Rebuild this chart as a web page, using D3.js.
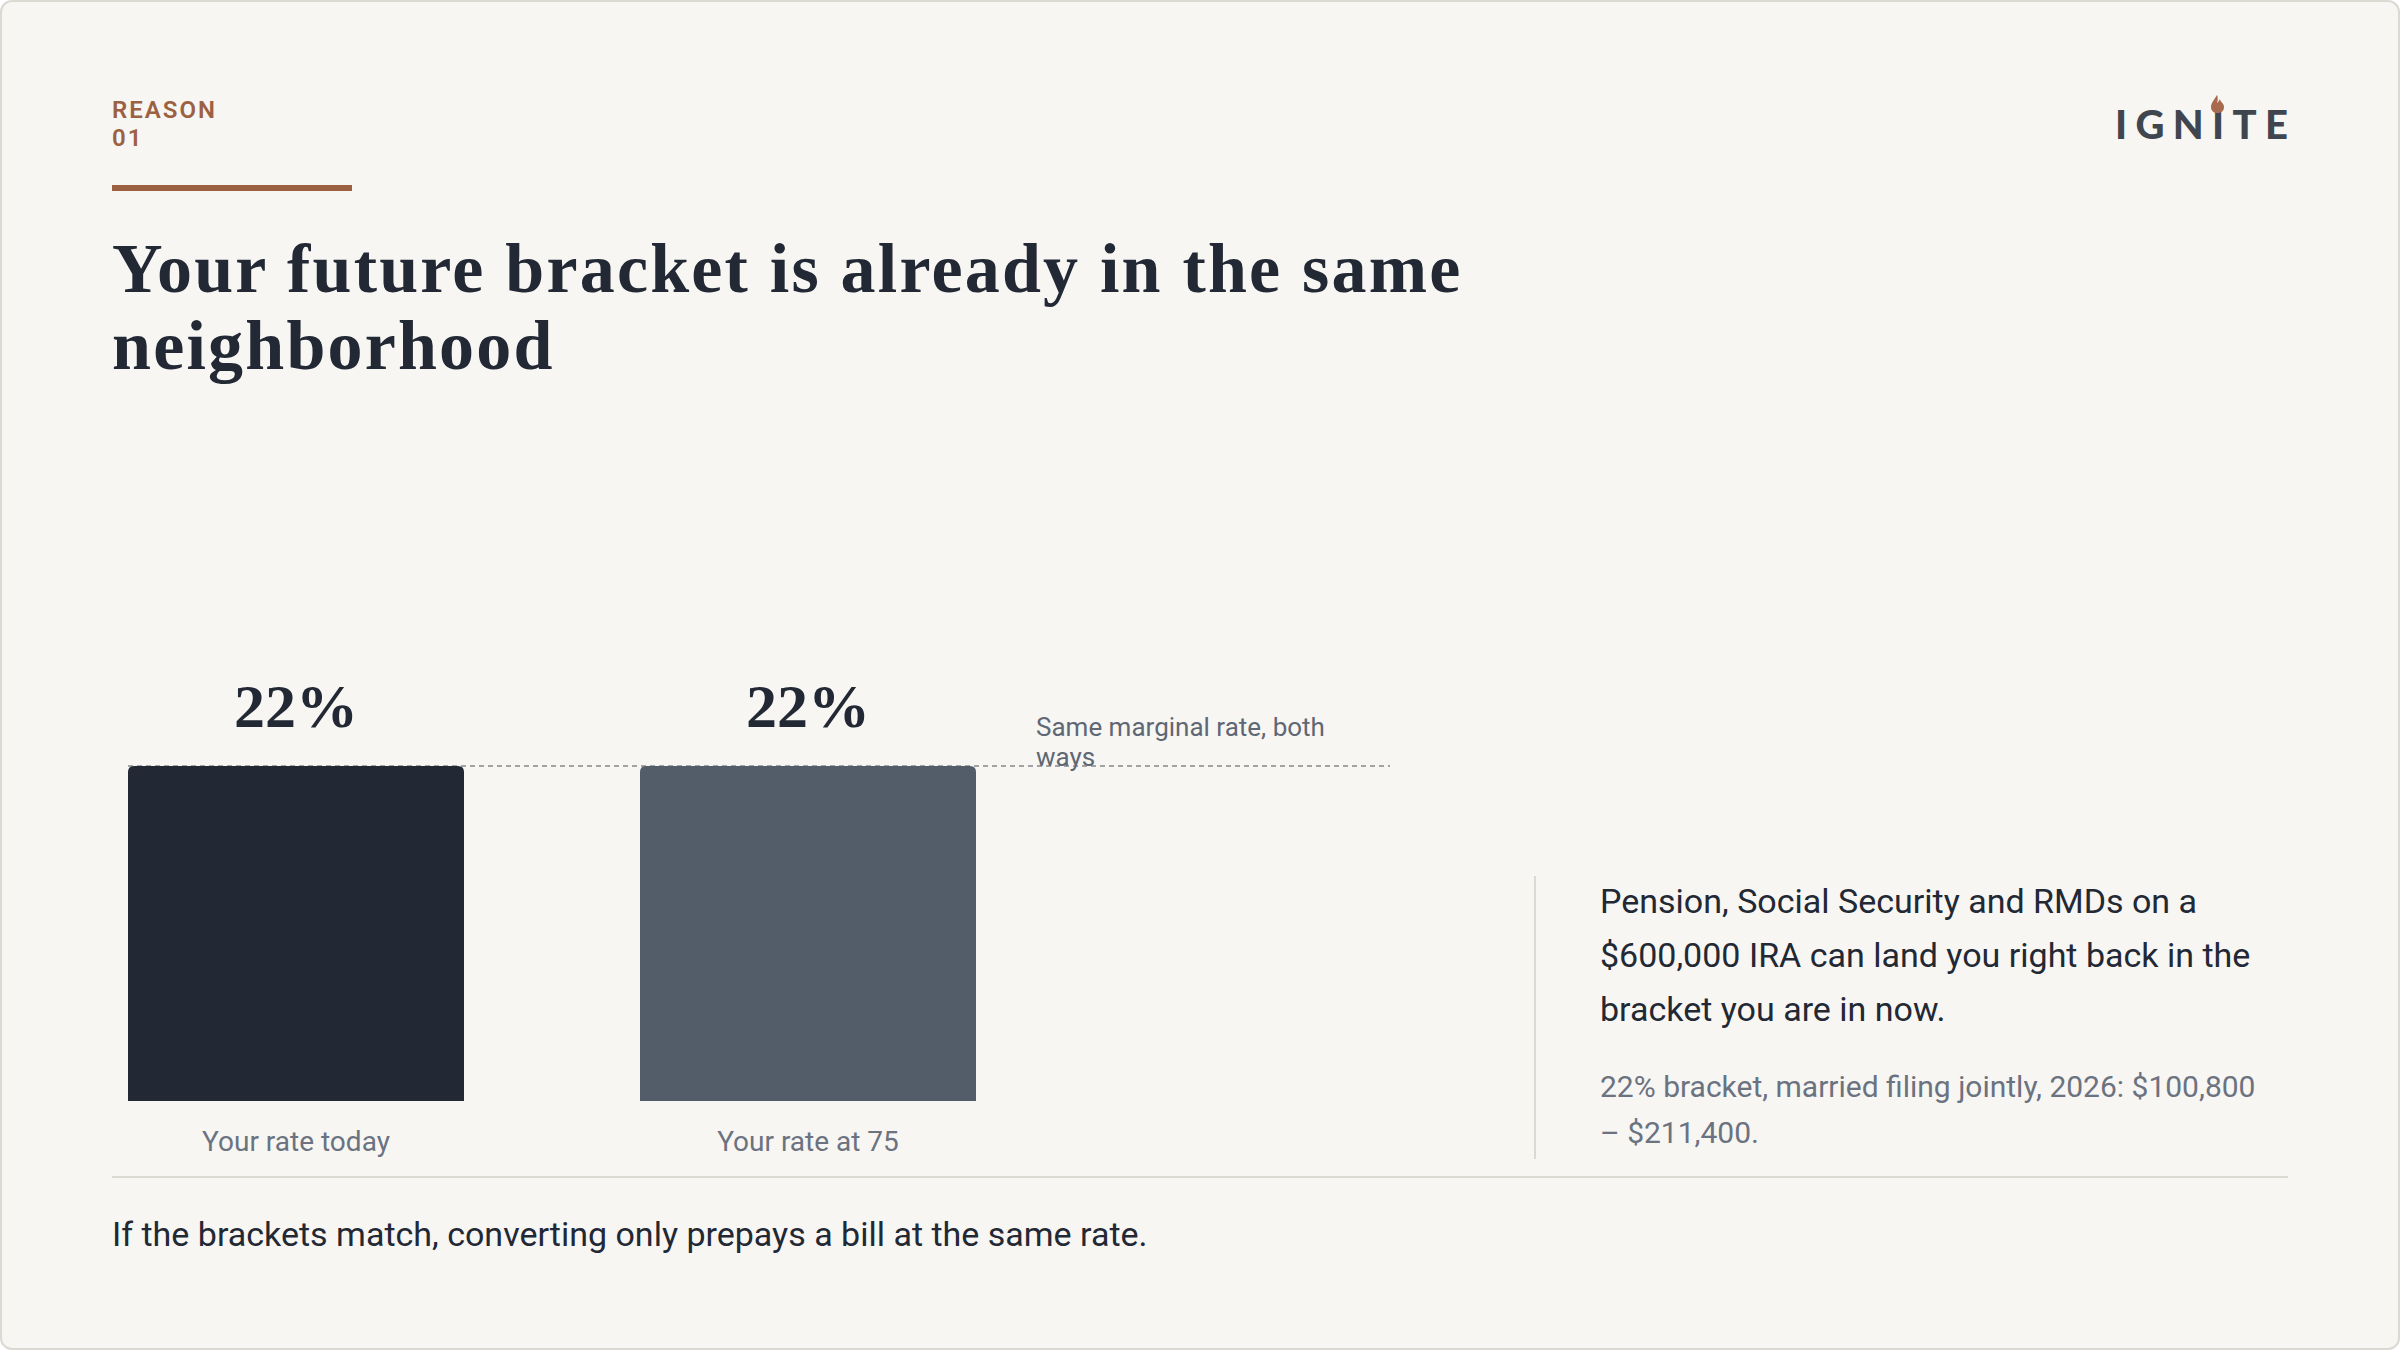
<!DOCTYPE html>
<html>
<head>
<meta charset="utf-8">
<script src="https://cdn.jsdelivr.net/npm/d3@7"></script>
<style>
  html, body { margin: 0; padding: 0; background: #ffffff; }
  svg { display: block; }
</style>
</head>
<body>
<div id="chart"></div>
<script>
// ---- data ----
const categories = ["Your rate today", "Your rate at 75"];
const rates = [22, 22];
const kicker = ["REASON", "01"];
const titleLines = ["Your future bracket is already in the same", "neighborhood"];
const annotationLines = ["Same marginal rate, both", "ways"];
const sideLines = ["Pension, Social Security and RMDs on a", "$600,000 IRA can land you right back in the", "bracket you are in now."];
const noteLines = ["22% bracket, married filing jointly, 2026: $100,800", "\u2013 $211,400."];
const footer = "If the brackets match, converting only prepays a bill at the same rate.";

// ---- setup ----
const W = 2400, H = 1350;
const ink = "#222834", muted = "#6b7280", accent = "#9c6142", rule = "#dcd8d2";
const sans = "Roboto, 'Noto Sans', sans-serif";
const serif = "'Liberation Serif', 'DejaVu Serif', serif";

const svg = d3.select("#chart").append("svg").attr("width", W).attr("height", H);

// card
svg.append("rect").attr("x", 1).attr("y", 1).attr("width", W - 2).attr("height", H - 2)
  .attr("rx", 11).attr("fill", "#f7f6f3").attr("stroke", rule).attr("stroke-width", 2);

// kicker
svg.append("g").selectAll("text").data(kicker).join("text")
  .attr("x", 112).attr("y", (d, i) => 118 + i * 28)
  .attr("font-family", sans).attr("font-weight", 600).attr("font-size", 24)
  .attr("letter-spacing", 2.0).attr("fill", accent).text(d => d);

svg.append("rect").attr("x", 112).attr("y", 185).attr("width", 240).attr("height", 6).attr("fill", accent);

// title
svg.append("g").selectAll("text").data(titleLines).join("text")
  .attr("x", 112).attr("y", (d, i) => 292 + i * 77)
  .attr("font-family", serif).attr("font-weight", 700).attr("font-size", 70)
  .attr("letter-spacing", 2.2)
  .attr("fill", ink).text(d => d);

// logo
const logo = svg.append("g");
logo.append("text").attr("x", 2115).attr("y", 139)
  .attr("font-family", "Lato, sans-serif").attr("font-weight", 900).attr("font-size", 40)
  .attr("textLength", 173).attr("lengthAdjust", "spacing")
  .attr("fill", "#3f464f").text("IGNITE");
logo.append("path")
  .attr("d", "M2217,95 C2214,100 2211,103 2211,107 C2211,111 2214,113 2217.5,113 C2221,113 2224,111 2224,107 C2224,103 2220,102 2220,99 C2219,101 2218,102 2217,103 C2218,100 2218,97 2217,95 Z")
  .attr("fill", "#a86a4d");

// ---- chart ----
const x = d3.scaleBand().domain(categories).range([128, 976]).paddingInner(0.34375).paddingOuter(0);
const y = d3.scaleLinear().domain([0, 22]).range([1101, 766]);
const color = d3.scaleOrdinal().domain(categories).range(["#222834", "#535d6a"]);

// dashed reference line
svg.append("line")
  .attr("x1", x(categories[0])).attr("x2", 1390)
  .attr("y1", y(rates[0])).attr("y2", y(rates[0]))
  .attr("stroke", "#a3a3a3").attr("stroke-width", 2).attr("stroke-dasharray", "5,4");

// bars with rounded top corners
const r = 6;
svg.append("g").selectAll("path").data(categories).join("path")
  .attr("d", (d, i) => {
    const x0 = x(d), x1 = x(d) + x.bandwidth(), y0 = y(rates[i]), yb = y(0);
    return `M${x0},${yb} L${x0},${y0 + r} Q${x0},${y0} ${x0 + r},${y0} L${x1 - r},${y0} Q${x1},${y0} ${x1},${y0 + r} L${x1},${yb} Z`;
  })
  .attr("fill", d => color(d));

// value labels
svg.append("g").selectAll("text").data(categories).join("text")
  .attr("x", d => x(d) + x.bandwidth() / 2).attr("y", (d, i) => y(rates[i]) - 39)
  .attr("text-anchor", "middle").attr("font-family", serif).attr("font-weight", 700)
  .attr("font-size", 62).attr("fill", ink).text((d, i) => rates[i] + "%");

// category labels
svg.append("g").selectAll("text").data(categories).join("text")
  .attr("x", d => x(d) + x.bandwidth() / 2).attr("y", 1151)
  .attr("text-anchor", "middle").attr("font-family", sans).attr("font-size", 28)
  .attr("fill", muted).text(d => d);

// annotation
svg.append("g").selectAll("text").data(annotationLines).join("text")
  .attr("x", 1036).attr("y", (d, i) => 736 + i * 29.5)
  .attr("font-family", sans).attr("font-size", 26).attr("fill", "#5f6775").text(d => d);

// divider
svg.append("line").attr("x1", 112).attr("x2", 2288).attr("y1", 1177).attr("y2", 1177)
  .attr("stroke", rule).attr("stroke-width", 2);

// footer
svg.append("text").attr("x", 112).attr("y", 1246)
  .attr("font-family", sans).attr("font-size", 34).attr("fill", ink).text(footer);

// side panel
svg.append("line").attr("x1", 1535).attr("x2", 1535).attr("y1", 876).attr("y2", 1159)
  .attr("stroke", rule).attr("stroke-width", 2);
svg.append("g").selectAll("text").data(sideLines).join("text")
  .attr("x", 1600).attr("y", (d, i) => 913 + i * 54)
  .attr("font-family", sans).attr("font-size", 34).attr("fill", ink).text(d => d);
svg.append("g").selectAll("text").data(noteLines).join("text")
  .attr("x", 1600).attr("y", (d, i) => 1097 + i * 46)
  .attr("font-family", sans).attr("font-size", 30).attr("fill", muted).text(d => d);
</script>
</body>
</html>
